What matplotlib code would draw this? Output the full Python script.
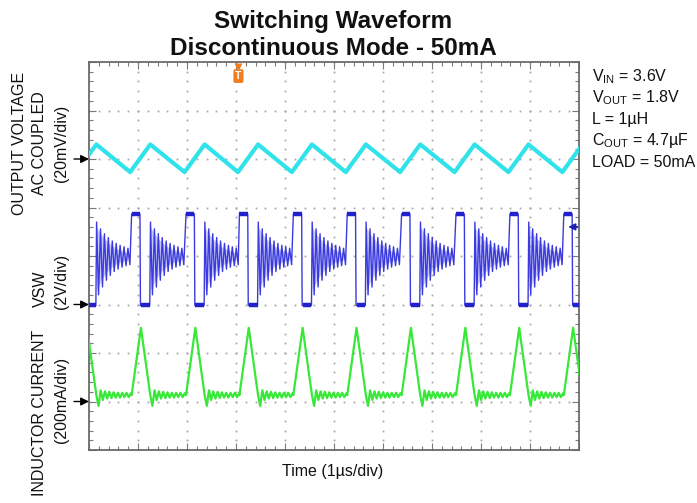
import numpy as np
import matplotlib
matplotlib.use('Agg')
import matplotlib.pyplot as plt

plt.rcParams['font.family'] = ['Liberation Sans', 'DejaVu Sans']
plt.rcParams['mathtext.fontset'] = 'custom'
plt.rcParams['mathtext.rm'] = 'Liberation Sans'
plt.rcParams['mathtext.it'] = 'Liberation Sans:italic'
plt.rcParams['mathtext.bf'] = 'Liberation Sans:bold'

# ---------------- data (screen divisions: x = µs, y = div from bottom) -------------
turn_on = [-0.23, 0.87, 1.98, 3.07, 4.17, 5.27, 6.38, 7.49, 8.59, 9.69]  # high-side turn-on
ref_levels = {'vout': 6.0, 'vsw': 3.0, 'il': 1.0}

# switch node (VSW)
vsw_high = 4.87
vsw_low = 2.98
vsw_high_dur = 0.17
vsw_low_end = 0.37
ring_step = 0.04
ring_tops = [4.70, 4.56, 4.46, 4.38, 4.31, 4.26, 4.22, 4.19, 4.16]
ring_bots = [3.20, 3.36, 3.50, 3.60, 3.68, 3.73, 3.77, 3.80, 3.82]

# inductor current
il_base = 1.13
il_peak = 2.52
il_rise = 0.19
il_fall_end = 0.38
il_ring_step = 0.044
il_ring = [-0.22, 0.10, -0.10, 0.08, -0.07, 0.07, -0.06, 0.06,
           -0.05, 0.05, -0.05, 0.05, -0.04, 0.05, -0.04, 0.04]

# output voltage (AC coupled)
vo_valley = 5.73
vo_peak = 6.30
vo_valley_off = -0.03
vo_peak_off = 0.38

title_lines = ['Switching Waveform', 'Discontinuous Mode - 50mA']
cond_lines = [r'V$_{\mathrm{IN}}$ = 3.6V', r'V$_{\mathrm{OUT}}$ = 1.8V', 'L = 1µH',
              r'C$_{\mathrm{OUT}}$ = 4.7µF', 'LOAD = 50mA']
xlabel = 'Time (1µs/div)'

# ---------------- figure ----------------
W, H = 697, 503
fig = plt.figure(figsize=(W / 100, H / 100), dpi=100)
fig.patch.set_facecolor('white')


def fx(px):
    return px / W


def fy(py):
    return 1 - py / H


ax = fig.add_axes([fx(89), fy(450), 490 / W, 388 / H])
ax.set_xlim(0, 10)
ax.set_ylim(0, 8)

for s in ax.spines.values():
    s.set_color('#6a6a6a')
    s.set_linewidth(1.3)
ax.set_xticks(np.arange(0, 11, 1))
ax.set_yticks(np.arange(0, 9, 1))
ax.set_xticks(np.arange(0, 10.01, 0.2), minor=True)
ax.set_yticks(np.arange(0, 8.01, 0.2), minor=True)
ax.tick_params(which='both', direction='in', top=True, right=True,
               labelbottom=False, labelleft=False, color='#7a7a7a', width=0.8)
ax.tick_params(which='major', length=5)
ax.tick_params(which='minor', length=3)

# dotted graticule
dots = np.arange(0, 10.01, 0.2)
dots_y = np.arange(0, 8.01, 0.2)
for k in range(1, 10):
    ax.plot([k] * len(dots_y), dots_y, ls='none', marker='s', ms=1.3,
            mec='none', mfc='#a8a8a8', zorder=1)
for k in range(1, 8):
    ax.plot(dots, [k] * len(dots), ls='none', marker='s', ms=1.3,
            mec='none', mfc='#a8a8a8', zorder=1)

# ---------------- output voltage ----------------
ox, oy = [], []
for t0 in turn_on:
    ox += [t0 + vo_valley_off, t0 + vo_peak_off]
    oy += [vo_valley, vo_peak]
ax.plot(ox, oy, color='#30e2ea', lw=3.0, solid_joinstyle='round', zorder=3)

# ---------------- VSW ----------------
vx, vy = [], []
fx_, ft, fb = [], [], []
for t0 in turn_on:
    vx += [t0, t0 + vsw_high_dur, t0 + vsw_high_dur + 0.01, t0 + vsw_low_end]
    vy += [vsw_high, vsw_high, vsw_low, vsw_low]
    for i, (top, bot) in enumerate(zip(ring_tops, ring_bots)):
        ta = t0 + vsw_low_end + ring_step * (2 * i) + 0.015
        tb = t0 + vsw_low_end + ring_step * (2 * i + 1) + 0.015
        vx += [ta, tb]
        vy += [top, bot]
    seg_x = [t0 + vsw_low_end + ring_step * 2 * i + 0.015 for i in range(len(ring_tops))]
    ax.fill_between(seg_x, [b + 0.1 for b in ring_bots], [t - 0.1 for t in ring_tops],
                    color='#8c8cf0', alpha=0.45, lw=0, zorder=2)
ax.plot(vx, vy, color='#3a3ade', lw=1.0, zorder=3)
for t0 in turn_on:
    ax.plot([t0, t0 + vsw_high_dur], [vsw_high, vsw_high], color='#2222cc',
            lw=3.2, solid_capstyle='butt', zorder=4)
    ax.plot([t0 + vsw_high_dur + 0.02, t0 + vsw_low_end], [vsw_low, vsw_low],
            color='#2222cc', lw=3.2, solid_capstyle='butt', zorder=4)

# ---------------- inductor current ----------------
ix, iy = [], []
for t0 in turn_on:
    ix += [t0, t0 + il_rise, t0 + il_fall_end]
    iy += [il_base, il_peak, il_base]
    for j, off in enumerate(il_ring):
        ix.append(t0 + il_fall_end + il_ring_step * (j + 1))
        iy.append(il_base + off)
ax.plot(ix, iy, color='#38e838', lw=1.6, zorder=3)

# ---------------- markers ----------------
for key in ['vout', 'vsw', 'il']:
    ax.annotate('', xy=(0, ref_levels[key]), xytext=(-15, 0), textcoords='offset pixels',
                arrowprops=dict(arrowstyle='-|>', color='black', lw=1.0,
                                mutation_scale=12, shrinkA=0, shrinkB=0),
                annotation_clip=False)

ax.annotate('', xy=(9.78, 4.6), xytext=(9.97, 4.6),
            arrowprops=dict(arrowstyle='-|>', color='#1e1eb0', lw=1.2,
                            mutation_scale=10, shrinkA=0, shrinkB=0), zorder=5)

ax.plot([3.05], [7.9], marker='v', ms=6, color='#f07d1e', mec='none', zorder=6, clip_on=False)
ax.text(3.05, 7.71, 'T', ha='center', va='center', color='white', fontsize=7.5,
        fontweight='bold', zorder=6,
        bbox=dict(boxstyle='round,pad=0.18', fc='#f07d1e', ec='none'))

# ---------------- text ----------------
fig.text(fx(333), fy(28), title_lines[0], ha='center', va='baseline',
         fontsize=17.5, fontweight='bold', color='#111111')
fig.text(fx(333), fy(55), title_lines[1], ha='center', va='baseline',
         fontsize=17.5, fontweight='bold', color='#111111')

for i, line in enumerate(cond_lines):
    fig.text(fx(592), fy(81 + 21.5 * i), line, ha='left', va='baseline',
             fontsize=11.5, color='#111111')

fig.text(fx(333), fy(476), xlabel, ha='center', va='baseline', fontsize=11.5,
         color='#111111')

left_labels = [
    ('OUTPUT VOLTAGE', 20, 143),
    ('AC COUPLED', 40, 143),
    ('(20mV/div)', 61, 143),
    ('VSW', 40, 289),
    ('(2V/div)', 61, 281),
    ('INDUCTOR CURRENT', 40, 413),
    ('(200mA/div)', 61, 400),
]
for txt, px, py in left_labels:
    fig.text(fx(px), fy(py), txt, rotation=90, ha='center', va='center',
             fontsize=11.5, color='#111111')

fig.savefig('out.png', dpi=100, facecolor='white')
